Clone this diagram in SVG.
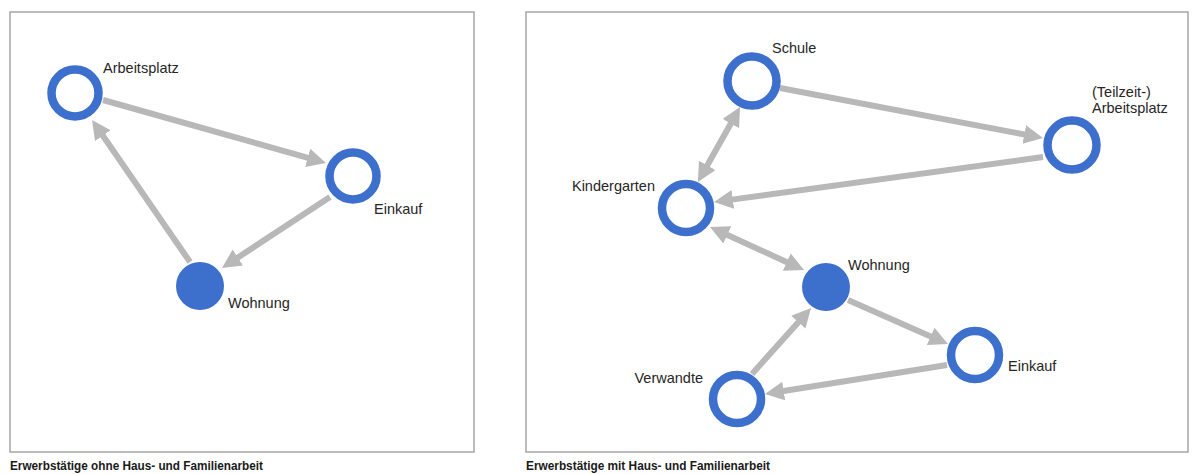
<svg xmlns="http://www.w3.org/2000/svg" width="1198" height="474" viewBox="0 0 1198 474">
<style>
.frame{fill:#fff;stroke:#a6a6a6;stroke-width:1.5}
.ring{fill:#fff;stroke:#3d6fcc;stroke-width:8.5}
.dot{fill:#3d6fcc}
.lbl{font-family:"Liberation Sans",Arial,sans-serif;font-size:14.5px;fill:#262626}
.cap{font-family:"Liberation Sans",Arial,sans-serif;font-size:12px;font-weight:bold;fill:#1a1a1a}
.arr{stroke:#b8b8b8;stroke-width:6;fill:none;marker-end:url(#ah)}
.dbl{stroke:#b8b8b8;stroke-width:6;fill:none;marker-end:url(#ah);marker-start:url(#ah)}
</style>
<defs>
<marker id="ah" viewBox="0 0 22 22" markerWidth="22" markerHeight="22" markerUnits="userSpaceOnUse" refX="5" refY="11" orient="auto-start-reverse">
<path d="M0,1.5 L19,11 L0,20.5 z" fill="#b8b8b8"/>
</marker>
</defs>
<rect width="1198" height="474" fill="#fff"/>
<rect class="frame" x="10" y="12" width="464" height="440"/>
<rect class="frame" x="526" y="12" width="662" height="440"/>
<text class="cap" x="10" y="470" textLength="253" lengthAdjust="spacingAndGlyphs">Erwerbstätige ohne Haus- und Familienarbeit</text>
<text class="cap" x="526" y="470" textLength="244" lengthAdjust="spacingAndGlyphs">Erwerbstätige mit Haus- und Familienarbeit</text>
<g id="connectors">
<line class="arr" x1="103" y1="100" x2="312.5" y2="159.2"/>
<line class="arr" x1="330" y1="197" x2="233.7" y2="260.3"/>
<line class="arr" x1="190" y1="262" x2="100" y2="131.5"/>
<line class="arr" x1="780" y1="88" x2="1029.2" y2="135.4"/>
<line class="arr" x1="1043" y1="157" x2="727.9" y2="200.1"/>
<line class="dbl" x1="733.2" y1="119.2" x2="704.8" y2="169.8"/>
<line class="dbl" x1="722.7" y1="232.8" x2="791.3" y2="264.2"/>
<line class="arr" x1="848" y1="300" x2="935.2" y2="338.4"/>
<line class="arr" x1="947" y1="365" x2="778.8" y2="391.8"/>
<line class="arr" x1="752" y1="374" x2="801.7" y2="318.4"/>
</g>
<g id="l-arbeitsplatz"><circle class="ring" cx="75" cy="93" r="23.5"/><text class="lbl" x="103" y="73">Arbeitsplatz</text></g>
<g id="l-einkauf"><circle class="ring" cx="353" cy="176" r="23.5"/><text class="lbl" x="374" y="214">Einkauf</text></g>
<g id="l-wohnung"><circle class="dot" cx="200" cy="286" r="24"/><text class="lbl" x="228" y="308">Wohnung</text></g>
<g id="r-schule"><circle class="ring" cx="752" cy="81" r="24.5"/><text class="lbl" x="772" y="53">Schule</text></g>
<g id="r-arbeitsplatz"><circle class="ring" cx="1072" cy="145" r="24.5"/><text class="lbl" x="1092" y="97">(Teilzeit-)</text><text class="lbl" x="1092" y="113">Arbeitsplatz</text></g>
<g id="r-kindergarten"><circle class="ring" cx="686" cy="208" r="24"/><text class="lbl" x="655" y="191" text-anchor="end">Kindergarten</text></g>
<g id="r-wohnung"><circle class="dot" cx="826" cy="287" r="24"/><text class="lbl" x="848" y="270">Wohnung</text></g>
<g id="r-einkauf"><circle class="ring" cx="975" cy="355" r="24"/><text class="lbl" x="1008" y="371">Einkauf</text></g>
<g id="r-verwandte"><circle class="ring" cx="737" cy="399" r="24"/><text class="lbl" x="703" y="383" text-anchor="end">Verwandte</text></g>
</svg>
